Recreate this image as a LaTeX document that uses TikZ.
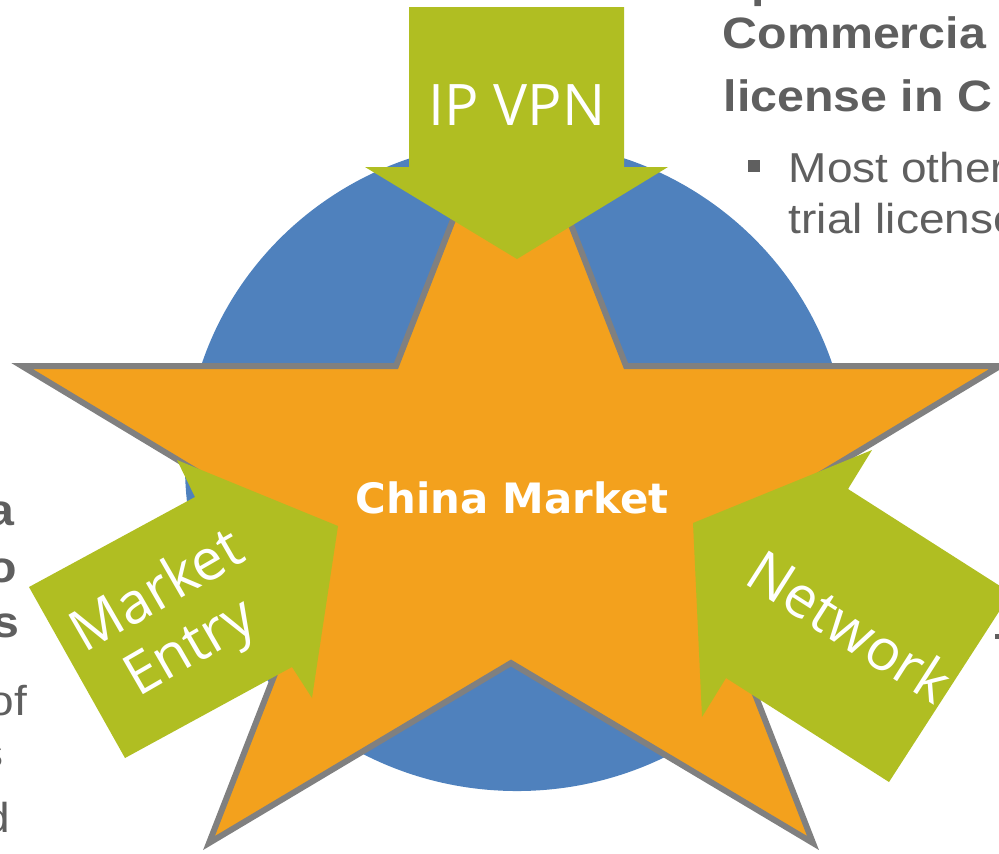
\documentclass[tikz,border=0pt]{standalone}
\usepackage{fontspec}
\newfontfamily\labelfont{Open Sans}
\newfontfamily\titlefont{DejaVu Sans}
\newfontfamily\notefont[FakeStretch=1.1]{Liberation Sans}
\definecolor{globeblue}{RGB}{79,129,189}
\definecolor{starorange}{RGB}{243,161,29}
\definecolor{stargray}{RGB}{128,128,128}
\definecolor{arrowgreen}{RGB}{176,190,34}
\definecolor{notegray}{RGB}{95,95,95}

\begin{document}
\begin{tikzpicture}[x=0.1mm,y=-0.1mm]
\tikzstyle{every node}=[inner sep=0pt]
\tikzstyle{arrowlabel}=[text=white, font=\labelfont\fontsize{16.3}{18.4}\selectfont, align=center]
\tikzstyle{titlelabel}=[text=white, font=\titlefont\bfseries\fontsize{11.9}{14}\selectfont]
\tikzstyle{note}=[text=notegray, font=\notefont\fontsize{11.9}{14}\selectfont]
\tikzstyle{boldnote}=[text=notegray, font=\notefont\bfseries\fontsize{12.5}{14}\selectfont]
\useasboundingbox (0,0) rectangle (999,853);
\clip (0,0) rectangle (999,853);
% globe and star
\fill[globeblue] (517,466) ellipse [x radius=332, y radius=325];
\draw[line width=1.7pt, draw=stargray, fill=starorange] (511,71) -- (626,366) -- (1000,366)
  -- (698,548) -- (813,843) -- (511,663) -- (209,843) -- (324,548) -- (22,366) -- (396,366) -- cycle;
% the three arrows
\fill[arrowgreen] (409,7) -- (624,7) -- (624,167) -- (668,167) -- (517,259) -- (365,167) -- (409,167) -- cycle;
\fill[arrowgreen] (29,587) -- (195,497) -- (177,460) -- (338,526) -- (312,698) -- (292,667) -- (125,758) -- cycle;
\fill[arrowgreen] (693,523) -- (872,450) -- (848,489) -- (1011,593) -- (889,782) -- (726,678) -- (702,717) -- cycle;
\node[arrowlabel, anchor=base] (ipvpn) at (517,125) {IP VPN};
\node[arrowlabel, rotate=30] (entry) at (175,622) {Market\\Entry};
\node[arrowlabel, rotate=-32.6] (network) at (850,626) {Network};
\node[titlelabel, anchor=base] (china) at (512,513) {China Market};
% cut-off notes
\node[boldnote, anchor=base west] (ptop) at (751,-3) {p};
\node[boldnote, anchor=base west] (comm) at (722,48) {Commercia};
\node[boldnote, anchor=base west] (lic) at (723,111) {license in C};
\node[fill=notegray, minimum size=1.2mm] (bullet) at (754,166) {};
\node[note, anchor=base west] (most) at (788,182) {Most other};
\node[note, anchor=base west] (trial) at (788,233) {trial license};
\node[fill=notegray, minimum width=0.8mm, minimum height=0.5mm] (mark) at (999,636) {};
\node[boldnote, anchor=base east] (la) at (15,525) {a};
\node[boldnote, anchor=base east] (lo) at (18,582) {o};
\node[boldnote, anchor=base east] (ls) at (20,637) {s};
\node[note, anchor=base east] (lof) at (28,715) {of};
\node[note, anchor=base east] (ls2) at (4,767) {s};
\node[note, anchor=base east] (ld) at (11,832) {d};
\end{tikzpicture}
\end{document}
